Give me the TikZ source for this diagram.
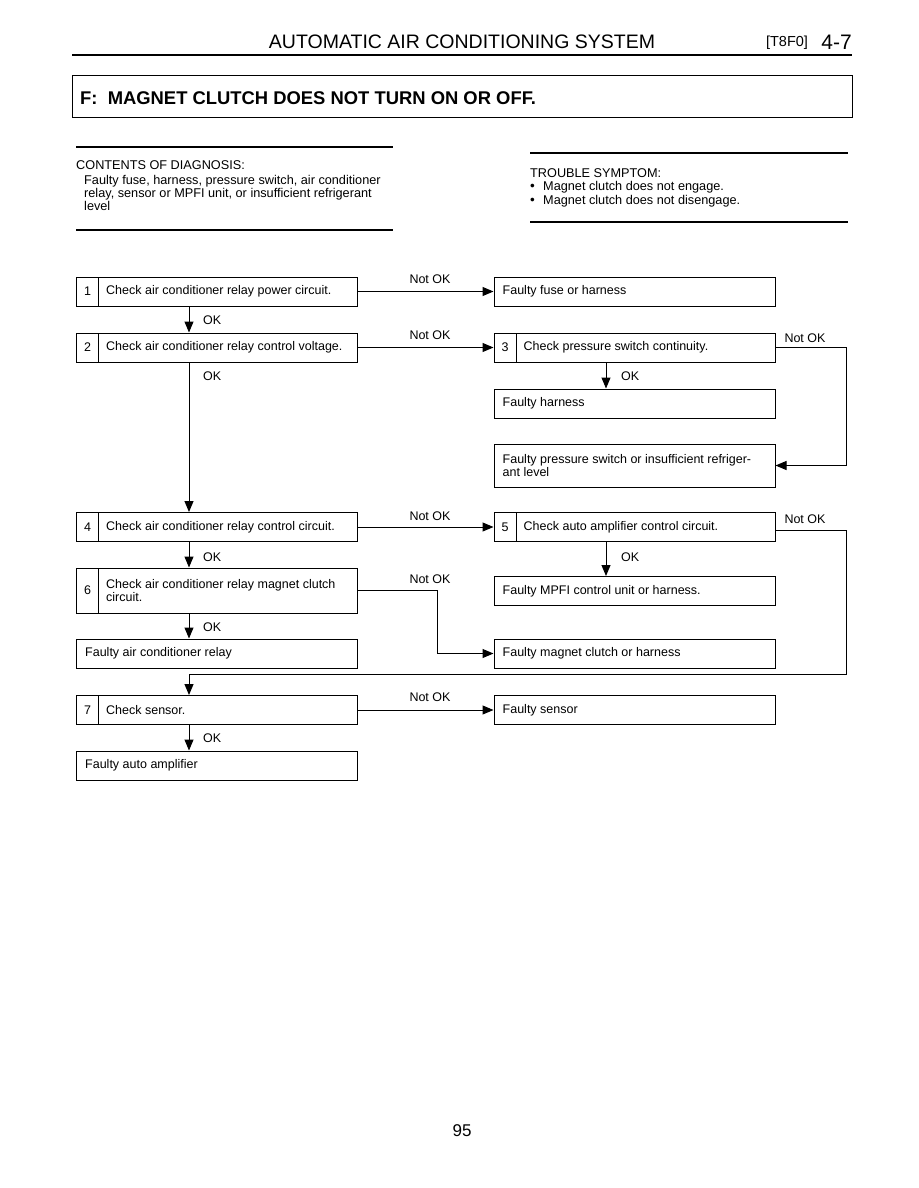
\documentclass[tikz,border=0pt]{standalone}
\usepackage{fontspec}
\setmainfont{Liberation Sans}
\usetikzlibrary{arrows.meta}
\newcommand\bxf{\fontsize{12.5}{13}\selectfont}
\newcommand\smf{\fontsize{12.7}{13}\selectfont}
\newcommand\bul{\makebox[13pt][l]{\raisebox{-0.6pt}{\fontsize{13.5}{13}\selectfont\textbullet}}}
\begin{document}
\begin{tikzpicture}[x=1pt,y=-1pt,
  box/.style={draw, line width=1pt, minimum width=281pt, minimum height=29pt, inner sep=0pt},
  numcell/.style={draw, line width=1pt, minimum width=22pt, minimum height=29pt, anchor=west, inner sep=0pt, font=\bxf},
  txt/.style={anchor=west, inner sep=0pt, font=\bxf, align=left},
  lbl/.style={inner sep=0pt, font=\bxf},
  oklbl/.style={inner sep=0pt, font=\bxf, anchor=west},
  sm/.style={inner sep=0pt, font=\smf, anchor=west},
  arr/.style={line width=1pt, -{Triangle[length=11pt,width=9pt]}},
  rulebar/.style={line width=1.6pt}
]
\useasboundingbox (0,0) rectangle (918,1188);
\fill[white] (0,0) rectangle (918,1188);

% header
\node[font=\fontsize{19.5}{21}\selectfont, inner sep=0pt] (hdr) at (462,42) {AUTOMATIC AIR CONDITIONING SYSTEM};
\node[font=\fontsize{14.5}{16}\selectfont, inner sep=0pt] (code) at (787,43) {[T8F0]};
\node[font=\fontsize{21}{22}\selectfont, inner sep=0pt, anchor=east] (pg) at (852,42) {4-7};
\draw[line width=2.5pt] (72,55) -- (852,55);

% title
\node[draw, line width=1pt, minimum width=780pt, minimum height=42pt, inner sep=0pt] (tbox) at (462,97) {};
\node[anchor=west, font=\bfseries\fontsize{18.4}{20}\selectfont, inner sep=0pt] (title) at (80,98) {F:~~MAGNET CLUTCH DOES NOT TURN ON OR OFF.};

% contents of diagnosis
\draw[rulebar] (76,147) -- (393,147);
\draw[rulebar] (76,230) -- (393,230);
\node[sm] (cd) at (76,165) {CONTENTS OF DIAGNOSIS:};
\node[anchor=north west, align=left, font=\smf, inner sep=0pt] (cdt) at (84,175) {Faulty fuse, harness, pressure switch, air conditioner\\relay, sensor or MPFI unit, or insufficient refrigerant\\level};

% trouble symptom
\draw[rulebar] (530,153) -- (848,153);
\draw[rulebar] (530,222) -- (848,222);
\node[sm] (ts) at (530,173) {TROUBLE SYMPTOM:};
\node[sm] (ts1) at (530,187) {\bul Magnet clutch does not engage.};
\node[sm] (ts2) at (530,201) {\bul Magnet clutch does not disengage.};

% flow boxes
\node[box] (b1) at (217,291.5) {};
\node[numcell] (n1) at (b1.west) {1};
\node[txt] (t1) at ([xshift=30pt]b1.west) {Check air conditioner relay power circuit.};

\node[box] (ff) at (634.5,291.5) {};
\node[txt] (tff) at ([xshift=9pt]ff.west) {Faulty fuse or harness};

\node[box] (b2) at (217,347.5) {};
\node[numcell] (n2) at (b2.west) {2};
\node[txt] (t2) at ([xshift=30pt]b2.west) {Check air conditioner relay control voltage.};

\node[box] (b3) at (634.5,347.5) {};
\node[numcell] (n3) at (b3.west) {3};
\node[txt] (t3) at ([xshift=30pt]b3.west) {Check pressure switch continuity.};

\node[box] (fh) at (634.5,403.5) {};
\node[txt] (tfh) at ([xshift=9pt]fh.west) {Faulty harness};

\node[box, minimum height=43pt] (fps) at (634.5,465.5) {};
\node[txt] (tfps) at ([xshift=9pt]fps.west) {Faulty pressure switch or insufficient refriger-\\ant level};

\node[box] (b4) at (217,527) {};
\node[numcell] (n4) at (b4.west) {4};
\node[txt] (t4) at ([xshift=30pt]b4.west) {Check air conditioner relay control circuit.};

\node[box] (b5) at (634.5,527) {};
\node[numcell] (n5) at (b5.west) {5};
\node[txt] (t5) at ([xshift=30pt]b5.west) {Check auto amplifier control circuit.};

\node[box] (fm) at (634.5,591) {};
\node[txt] (tfm) at ([xshift=9pt]fm.west) {Faulty MPFI control unit or harness.};

\node[box, minimum height=45pt] (b6) at (217,590.5) {};
\node[numcell, minimum height=45pt] (n6) at (b6.west) {6};
\node[txt] (t6) at ([xshift=30pt]b6.west) {Check air conditioner relay magnet clutch\\circuit.};

\node[box] (far) at (217,653.5) {};
\node[txt] (tfar) at ([xshift=9pt]far.west) {Faulty air conditioner relay};

\node[box] (fmc) at (634.5,653.5) {};
\node[txt] (tfmc) at ([xshift=9pt]fmc.west) {Faulty magnet clutch or harness};

\node[box] (b7) at (217,710) {};
\node[numcell] (n7) at (b7.west) {7};
\node[txt] (t7) at ([xshift=30pt]b7.west) {Check sensor.};

\node[box] (fs) at (634.5,710) {};
\node[txt] (tfs) at ([xshift=9pt]fs.west) {Faulty sensor};

\node[box] (faa) at (217,765.5) {};
\node[txt] (tfaa) at ([xshift=9pt]faa.west) {Faulty auto amplifier};

% connectors
\coordinate (ax) at (189,0);
\coordinate (bx) at (606,0);
\coordinate (rx) at (846,0);
\coordinate (mx) at (437,0);
\coordinate (j7) at (189,674);

\draw[arr] (b1.east) -- (ff.west);
\draw[arr] (b1.south -| ax) -- (b2.north -| ax);
\draw[arr] (b2.east) -- (b3.west);
\draw[arr] (b2.south -| ax) -- (b4.north -| ax);
\draw[arr] (b3.south -| bx) -- (fh.north -| bx);
\draw[arr] (b3.east) -- (b3.east -| rx) |- (fps.east);
\draw[arr] (b4.east) -- (b5.west);
\draw[arr] (b4.south -| ax) -- (b6.north -| ax);
\draw[arr] (b5.south -| bx) -- (fm.north -| bx);
\draw[arr] ([yshift=-3pt]b5.east) -- ([yshift=-3pt]b5.east -| rx) |- (j7) -- (b7.north -| j7);
\draw[arr] (b6.east) -- (b6.east -| mx) |- (fmc.west);
\draw[arr] (b6.south -| ax) -- (far.north -| ax);
\draw[arr] (b7.east) -- (fs.west);
\draw[arr] (b7.south -| ax) -- (faa.north -| ax);

% labels
\node[lbl] (nk1) at (430,279) {Not OK};
\node[lbl] (nk2) at (430,335) {Not OK};
\node[lbl] (nk4) at (430,516) {Not OK};
\node[lbl] (nk6) at (430,579) {Not OK};
\node[lbl] (nk7) at (430,697) {Not OK};
\node[lbl] (nk3) at (805,338) {Not OK};
\node[lbl] (nk5) at (805,519) {Not OK};

\node[oklbl] (ok1) at (203,320) {OK};
\node[oklbl] (ok2) at (203,376) {OK};
\node[oklbl] (ok4) at (203,557) {OK};
\node[oklbl] (ok6) at (203,627) {OK};
\node[oklbl] (ok7) at (203,738) {OK};
\node[oklbl] (ok3) at (621,376) {OK};
\node[oklbl] (ok5) at (621,557) {OK};

% page number
\node[font=\fontsize{17}{18}\selectfont, inner sep=0pt] (pnum) at (462,1131) {95};
\end{tikzpicture}
\end{document}
